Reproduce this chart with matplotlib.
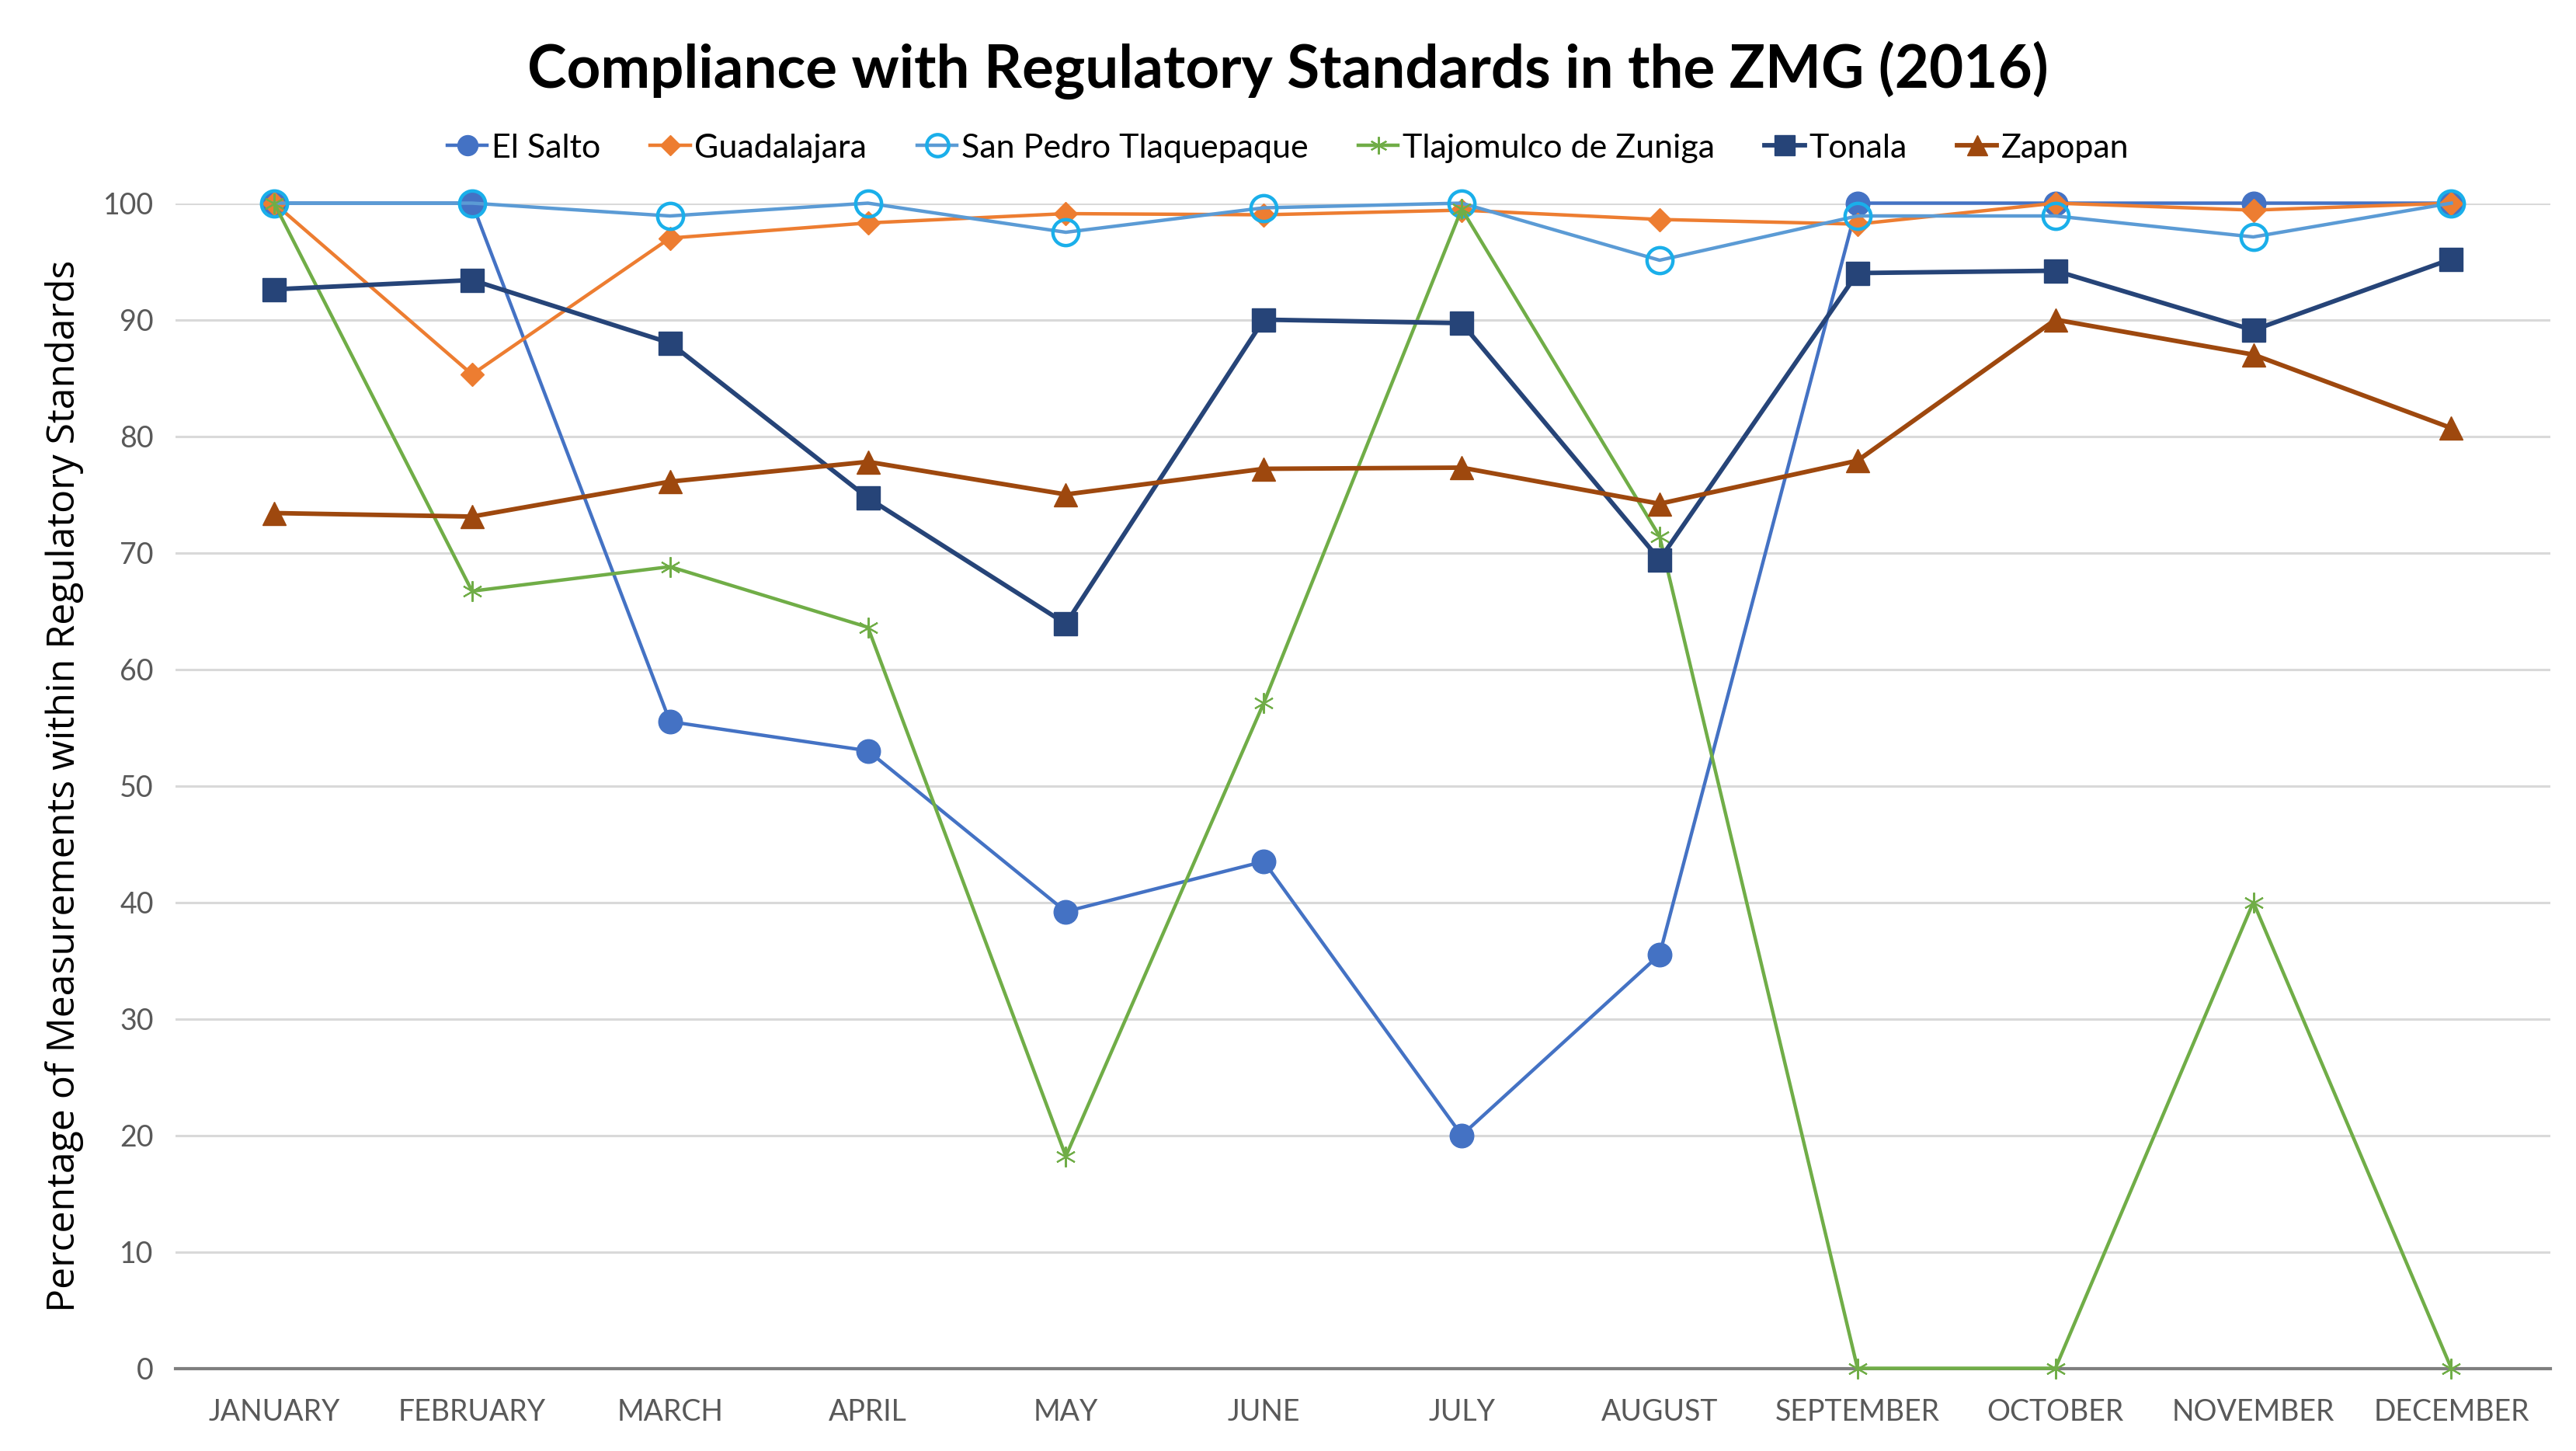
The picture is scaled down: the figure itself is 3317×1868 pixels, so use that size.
import matplotlib
matplotlib.use('Agg')
import matplotlib.pyplot as plt
import numpy as np

months = ['JANUARY', 'FEBRUARY', 'MARCH', 'APRIL', 'MAY', 'JUNE', 'JULY',
          'AUGUST', 'SEPTEMBER', 'OCTOBER', 'NOVEMBER', 'DECEMBER']

el_salto = [100, 100, 55.5, 53.0, 39.2, 43.5, 20.0, 35.5, 100, 100, 100, 100]
guadalajara = [100, 85.3, 97.0, 98.3, 99.1, 99.0, 99.4, 98.6, 98.2, 100, 99.4, 100]
san_pedro = [100, 100, 98.9, 100, 97.5, 99.6, 100, 95.1, 98.9, 98.9, 97.1, 100]
tlajomulco = [100, 66.7, 68.8, 63.6, 18.2, 57.1, 99.5, 71.4, 0, 0, 40.0, 0]
tonala = [92.6, 93.4, 88.0, 74.7, 63.9, 90.0, 89.7, 69.4, 94.0, 94.2, 89.1, 95.2]
zapopan = [73.4, 73.1, 76.1, 77.8, 75.0, 77.2, 77.3, 74.2, 77.9, 90.0, 87.0, 80.7]

yticks = [0, 10, 20, 30, 40, 50, 60, 70, 80, 90, 100]

plt.rcParams['font.family'] = ['Lato', 'DejaVu Sans']

fig = plt.figure(figsize=(33.17, 18.68), dpi=100)
ax = fig.add_axes([0.068, 0.057, 0.922, 0.803])
x = np.arange(len(months))

# series in excel order, last one on top
ax.plot(x, el_salto, color='#4472C4', lw=3.2, marker='o', ms=22,
        label='El Salto', clip_on=False, zorder=3)
ax.plot(x, guadalajara, color='#ED7D31', lw=3.2, marker='D', ms=15,
        label='Guadalajara', clip_on=False, zorder=3)
ax.plot(x, san_pedro, color='#5B9BD5', lw=3.2, marker='o', ms=24,
        mfc='none', mec='#1AAFEA', mew=3.2, label='San Pedro Tlaquepaque',
        clip_on=False, zorder=3)
ax.plot(x, tlajomulco, color='#70AD47', lw=3.2, marker=(6, 2, 0), ms=19,
        mew=1.5, label='Tlajomulco de Zuniga', clip_on=False, zorder=3)
ax.plot(x, tonala, color='#264478', lw=4.2, marker='s', ms=22,
        label='Tonala', clip_on=False, zorder=3)
ax.plot(x, zapopan, color='#9E480E', lw=4.2, marker='^', ms=22,
        label='Zapopan', clip_on=False, zorder=3)

ax.set_xlim(-0.5, len(months) - 0.5)
ax.set_ylim(0, 100)
ax.set_xticks(x)
ax.set_xticklabels(months)
ax.set_yticks(yticks)
ax.tick_params(axis='both', length=0, labelsize=27, colors='#595959')
ax.tick_params(axis='x', pad=28)
ax.tick_params(axis='y', pad=20)

ax.grid(axis='y', color='#D9D9D9', lw=2.2)
ax.set_axisbelow(True)
for s in ['top', 'right', 'left']:
    ax.spines[s].set_visible(False)
ax.spines['bottom'].set_color('#7F7F7F')
ax.spines['bottom'].set_linewidth(3)
ax.spines['bottom'].set_zorder(2.5)

ax.set_ylabel('Percentage of Measurements within Regulatory Standards',
              fontsize=36, color='#000000', family=['Open Sans', 'DejaVu Sans'],
              labelpad=18)

fig.suptitle('Compliance with Regulatory Standards in the ZMG (2016)',
             fontsize=55, fontweight='bold', y=0.972)

fig.legend(loc='center', bbox_to_anchor=(0.5, 0.898), ncol=6, frameon=False,
           fontsize=31, handlelength=1.2, handletextpad=0.12, columnspacing=1.5,
           markerscale=0.85)

fig.savefig('out.png', dpi=100)
